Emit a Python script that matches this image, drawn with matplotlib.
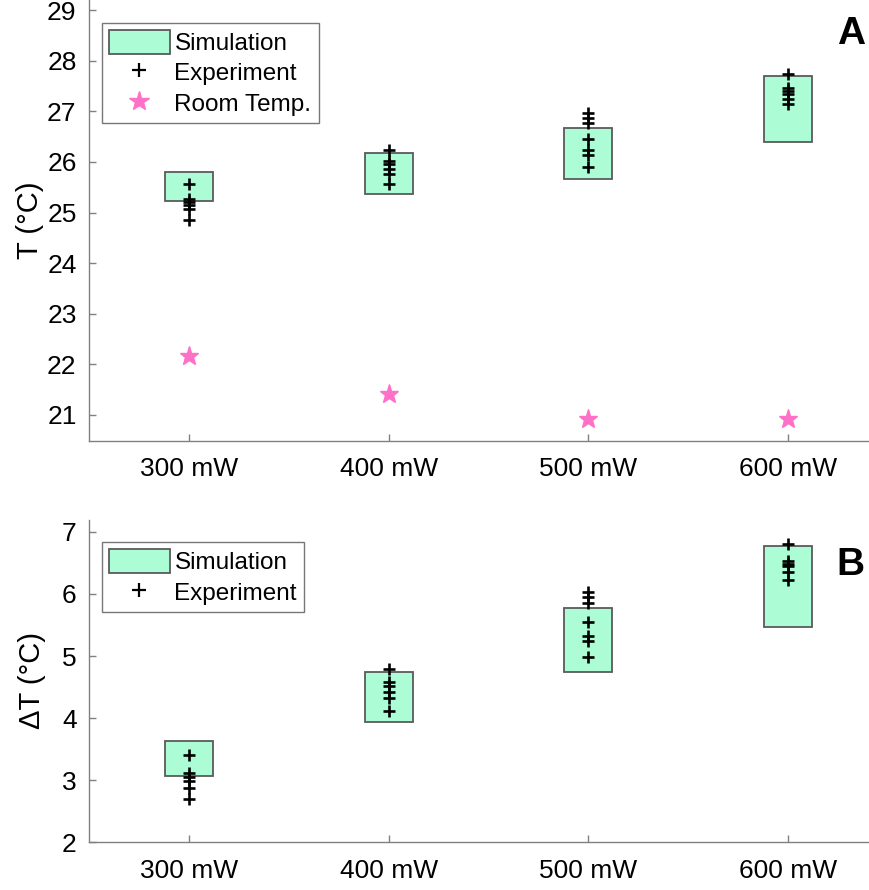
import numpy as np
import matplotlib.pyplot as plt
from matplotlib.patches import Rectangle
from matplotlib.lines import Line2D

plt.rcParams['font.family'] = ['Liberation Sans', 'DejaVu Sans']

powers = ['300 mW', '400 mW', '500 mW', '600 mW']

# simulated temperature range (low, high) per laser power
sim_T = [(25.22, 25.80), (25.36, 26.18), (25.66, 26.68), (26.40, 27.70)]
exp_T = [
    [25.57, 25.27, 25.21, 25.15, 25.06, 24.85],
    [26.24, 26.01, 25.95, 25.86, 25.77, 25.57],
    [26.97, 26.87, 26.77, 26.45, 26.24, 26.14, 25.90],
    [27.73, 27.47, 27.41, 27.34, 27.25, 27.15],
]
room_T = [22.16, 21.42, 20.91, 20.91]

sim_dT = [(3.07, 3.63), (3.93, 4.75), (4.75, 5.77), (5.47, 6.78)]
exp_dT = [
    [3.40, 3.12, 3.05, 2.99, 2.87, 2.69],
    [4.79, 4.58, 4.51, 4.42, 4.33, 4.12],
    [6.04, 5.95, 5.86, 5.55, 5.32, 5.24, 4.99],
    [6.80, 6.53, 6.49, 6.45, 6.35, 6.23],
]

mint = '#acfcd6'
pink = '#ff70c8'
edge = '#5a5a5a'
box_w = 0.24

fig = plt.figure(figsize=(8.7, 8.9), dpi=100)
axA = fig.add_axes([0.1023, 0.5048, 0.93, 0.4952])
axB = fig.add_axes([0.1023, 0.0539, 0.93, 0.3623])


def draw_panel(ax, sim, exp):
    x = np.arange(1, len(powers) + 1)
    for i, (lo, hi) in enumerate(sim):
        ax.add_patch(Rectangle((x[i] - box_w / 2, lo), box_w, hi - lo,
                               facecolor=mint, edgecolor=edge, lw=1.3, zorder=2))
    for i, vals in enumerate(exp):
        ax.plot([x[i]] * len(vals), vals, '+', color='black', ms=8.5, mew=1.9,
                zorder=3)
    ax.set_xticks(x)
    ax.set_xticklabels(powers)
    ax.set_xlim(0.5, 4.55)
    for s in ['top', 'right']:
        ax.spines[s].set_visible(False)
    for s in ['left', 'bottom']:
        ax.spines[s].set_color('#808080')
        ax.spines[s].set_linewidth(1.0)
    ax.tick_params(direction='in', length=5, width=1, color='#808080',
                   labelsize=19, pad=9)
    ax.tick_params(axis='x', pad=12)


draw_panel(axA, sim_T, exp_T)
axA.plot(np.arange(1, 5), room_T, '*', color=pink, ms=14, mec=pink, zorder=3)
axA.set_ylim(20.49, 29.2)
axA.set_yticks(range(21, 30))
axA.set_ylabel('T (°C)', fontsize=21, labelpad=2)

draw_panel(axB, sim_dT, exp_dT)
axB.set_ylim(2, 7.2)
axB.set_yticks(range(2, 8))
axB.set_ylabel('ΔT (°C)', fontsize=21, labelpad=11)

# panel letters
fig.text(0.978, 0.962, 'A', fontsize=28, fontweight='bold',
         ha='center', va='center')
fig.text(0.978, 0.365, 'B', fontsize=28, fontweight='bold',
         ha='center', va='center')

sim_handle = Rectangle((0, 0), 1, 1, facecolor=mint, edgecolor=edge, lw=1.3)
exp_handle = Line2D([], [], ls='none', marker='+', color='black', ms=10, mew=1.6)
room_handle = Line2D([], [], ls='none', marker='*', color=pink, ms=15)

leg_kw = dict(fontsize=17.5, frameon=True, fancybox=False, edgecolor='#555555',
              handlelength=2.5, handleheight=1.1, handletextpad=0.2,
              borderpad=0.3, labelspacing=0.22, borderaxespad=0)
legA = axA.legend([sim_handle, exp_handle, room_handle],
                  ['Simulation', 'Experiment', 'Room Temp.'],
                  loc='upper left', bbox_to_anchor=(0.0155, 0.948), **leg_kw)
legA.get_frame().set_linewidth(1.0)
legB = axB.legend([sim_handle, exp_handle], ['Simulation', 'Experiment'],
                  loc='upper left', bbox_to_anchor=(0.0155, 0.93), **leg_kw)
legB.get_frame().set_linewidth(1.0)

plt.savefig('out.png', dpi=100)
